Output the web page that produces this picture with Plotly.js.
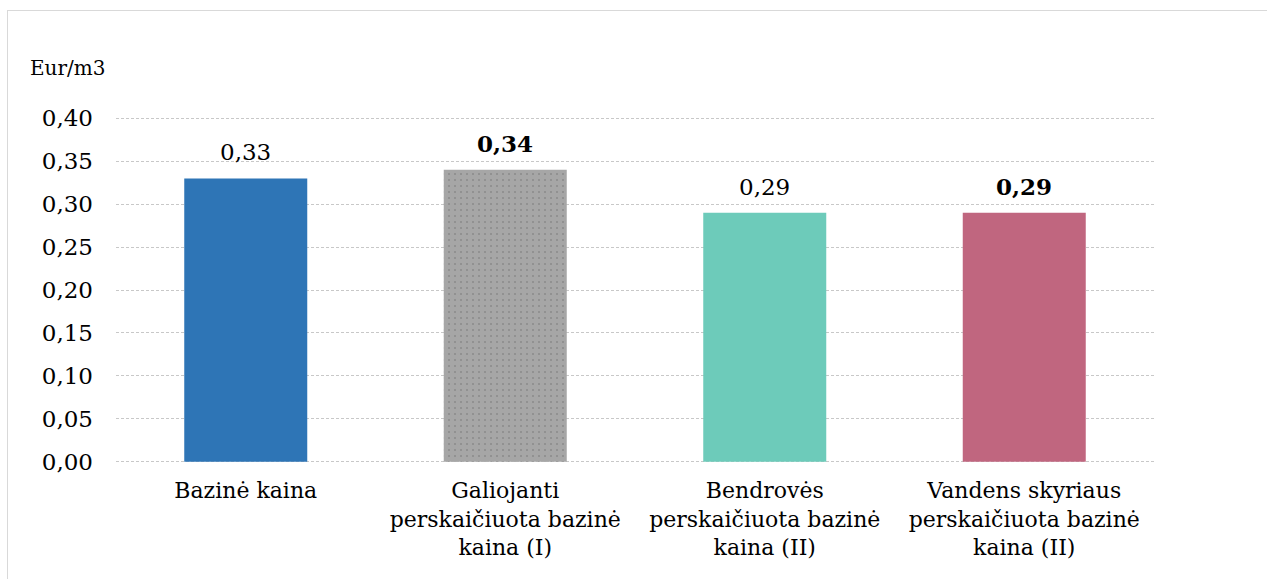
<!DOCTYPE html>
<html><head><meta charset="utf-8">
<script src="https://cdn.plot.ly/plotly-3.0.1.min.js"></script>
<style>
html,body{margin:0;padding:0;background:#fff;}
#wrap{position:relative;width:1267px;height:579px;}
#frame{position:absolute;left:7px;top:10px;width:1260px;height:569px;border-top:1px solid #d9d9d9;border-left:1px solid #d9d9d9;box-sizing:border-box;pointer-events:none;}
#chart{position:absolute;left:0;top:0;width:1267px;height:579px;}
</style></head>
<body>
<div id="wrap"><div id="chart"></div><div id="frame"></div></div>
<script>
const categories = ["Bazinė kaina", "Galiojanti<br>perskaičiuota bazinė<br>kaina (I)", "Bendrovės<br>perskaičiuota bazinė<br>kaina (II)", "Vandens skyriaus<br>perskaičiuota bazinė<br>kaina (II)"];
const values = [0.33, 0.34, 0.29, 0.29];
const labelBold = [false, true, false, true];
const barColors = ["#2E75B6", "#A6A6A6", "#6DCBBA", "#C0667F"];
const patternShapes = ["", ".", "", ""];
const yTicks = [0, 0.05, 0.10, 0.15, 0.20, 0.25, 0.30, 0.35, 0.40];
const yUnit = "Eur/m3";

const fmt = v => v.toFixed(2).replace('.', ',');
const font = "DejaVu Serif";

const trace = {
  type: 'bar',
  x: categories,
  y: values,
  width: 0.474,
  marker: {
    color: barColors,
    line: {width: 0},
    pattern: {shape: patternShapes, fgcolor: "#8A8A8A", size: 6, solidity: 0.06, fillmode: 'overlay'}
  },
  hoverinfo: 'none'
};

const annotations = values.map((v, i) => ({
  x: categories[i], y: v, xref: 'x', yref: 'y',
  text: labelBold[i] ? '<b>' + fmt(v) + '</b>' : fmt(v),
  showarrow: false, yanchor: 'bottom', yshift: 11,
  font: {family: font, size: 23, color: '#000'}
}));
annotations.push({
  x: 0, y: 1, xref: 'paper', yref: 'paper', xanchor: 'left', yanchor: 'bottom',
  xshift: -88, yshift: 35,
  text: yUnit, showarrow: false,
  font: {family: font, size: 20, color: '#000'}
});

const layout = {
  width: 1267, height: 579,
  margin: {l: 116, r: 113, t: 117, b: 116},
  paper_bgcolor: 'rgba(0,0,0,0)', plot_bgcolor: '#fff',
  separators: ',.',
  showlegend: false,
  font: {family: font, size: 22, color: '#000'},
  xaxis: {
    showgrid: false, zeroline: false, showline: false, ticks: '',
    tickfont: {family: font, size: 22, color: '#000'},
    ticklabelstandoff: 12,
    fixedrange: true
  },
  yaxis: {
    range: [-0.0015, 0.4015], tickvals: yTicks, tickformat: '.2f',
    showgrid: true, gridcolor: '#c8c8c8', griddash: '3px,2px', gridwidth: 1,
    zeroline: false, showline: false, ticks: '', ticklabelstandoff: 22,
    tickfont: {family: font, size: 23, color: '#000'},
    fixedrange: true
  },
  annotations: annotations
};

Plotly.newPlot('chart', [trace], layout, {displayModeBar: false, staticPlot: true});
</script>
</body></html>
